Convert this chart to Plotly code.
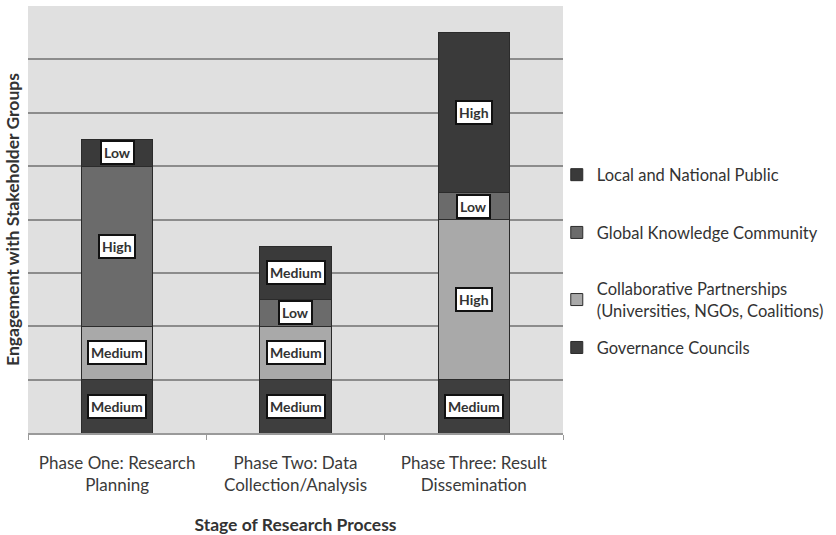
import plotly.graph_objects as go

# Stages of the research process (x categories)
stages = ["Phase One: Research<br>Planning",
          "Phase Two: Data<br>Collection/Analysis",
          "Phase Three: Result<br>Dissemination"]

# Engagement per stakeholder group, stacked bottom to top
series_names = ["Governance Councils",
                "Collaborative Partnerships<br>(Universities, NGOs, Coalitions)",
                "Global Knowledge Community",
                "Local and National Public"]
governance = [1, 1, 1]
collaborative = [1, 1, 3]
global_knowledge = [3, 0.5, 0.5]
local_public = [0.5, 1, 3]

# Qualitative level written on each segment
governance_lvl = ["Medium", "Medium", "Medium"]
collaborative_lvl = ["Medium", "Medium", "High"]
global_lvl = ["High", "Low", "Low"]
local_lvl = ["Low", "Medium", "High"]

series_values = [governance, collaborative, global_knowledge, local_public]
series_levels = [governance_lvl, collaborative_lvl, global_lvl, local_lvl]
series_colors = ["#3e3e3e", "#a9a9a9", "#6b6b6b", "#3a3a3a"]

# One legend box per series so the entries sit at their own heights
legend_ids = ["legend", "legend2", "legend3", "legend4"]
legend_y = [0.350, 0.440, 0.565, 0.673]

FONT = "Lato"

fig = go.Figure()
for name, vals, col, lid in zip(series_names, series_values, series_colors, legend_ids):
    fig.add_trace(go.Bar(
        x=stages, y=vals, name=name, legend=lid,
        marker=dict(color=col, line=dict(color="#2b2b2b", width=1)),
        hoverinfo="skip",
    ))

# Boxed level labels centred on each stacked segment
annotations = []
base = [0.0] * len(stages)
for vals, lvls in zip(series_values, series_levels):
    for j, (v, lvl) in enumerate(zip(vals, lvls)):
        annotations.append(dict(
            x=stages[j], y=base[j] + v / 2, xref="x", yref="y",
            text=f"<b>{lvl}</b>", showarrow=False,
            font=dict(family=FONT, size=14, color="#333333"),
            bgcolor="white", bordercolor="#111111", borderwidth=2, borderpad=2,
        ))
        base[j] += v

legend_style = dict(
    xref="container", yref="container",
    x=0.666, xanchor="left", yanchor="middle",
    font=dict(family=FONT, size=16.5, color="#333333"),
    itemwidth=30, bgcolor="rgba(0,0,0,0)",
)

fig.update_layout(
    width=836, height=535,
    margin=dict(l=28, r=273, t=6, b=102, autoexpand=False),
    paper_bgcolor="white", plot_bgcolor="#e0e0e0",
    barmode="stack", bargap=0.6,
    font=dict(family=FONT, color="#333333"),
    showlegend=True,
    annotations=annotations,
)
for lid, ly in zip(legend_ids, legend_y):
    fig.update_layout({lid: dict(legend_style, y=ly)})

fig.update_xaxes(
    automargin=False,
    tickfont=dict(family=FONT, size=17, color="#3a3a3a"),
    ticklabelstandoff=14,
    showline=True, linecolor="#9a9a9a", linewidth=1.5,
    ticks="outside", tickson="boundaries", ticklen=5, tickcolor="#9a9a9a",
    showgrid=False,
    title=dict(text="<b>Stage of Research Process</b>",
               font=dict(family=FONT, size=17.5, color="#333333"), standoff=24),
)
fig.update_yaxes(
    automargin=False,
    range=[0, 8], dtick=1, showticklabels=False,
    showgrid=True, gridcolor="#8c8c8c", gridwidth=1.5,
    zeroline=False, showline=False,
    title=dict(text="<b>Engagement with Stakeholder Groups</b>",
               font=dict(family=FONT, size=17.5, color="#333333"), standoff=2),
)

fig.write_html("out.html")
